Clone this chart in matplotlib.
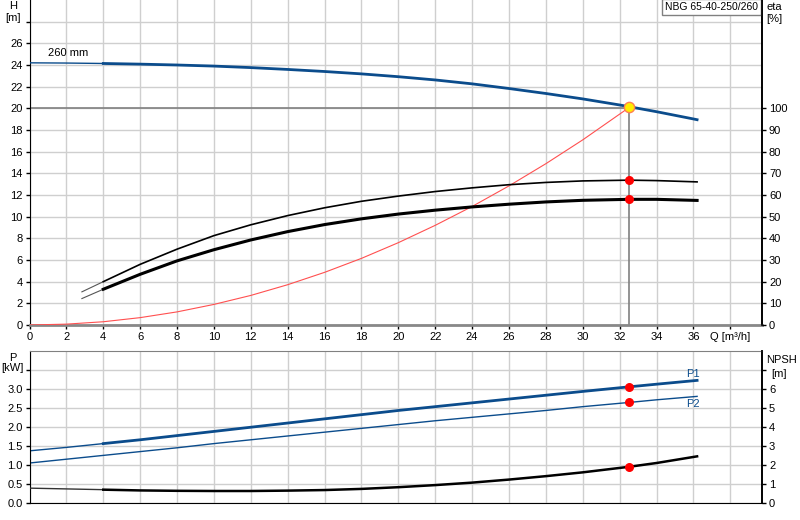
import numpy as np
import matplotlib
matplotlib.use("Agg")
import matplotlib.pyplot as plt

plt.rcParams['font.family'] = ['Liberation Sans', 'DejaVu Sans']

# flow Q [m3/h] and head H [m]
q_h = [0, 2, 4, 6, 8, 10, 12, 14, 16, 18, 20, 22, 24, 26, 28, 30, 32, 34, 36, 36.2]
head = [24.2, 24.18, 24.14, 24.08, 24.0, 23.9, 23.76, 23.59, 23.4, 23.18, 22.92,
        22.62, 22.26, 21.83, 21.37, 20.87, 20.31, 19.69, 19.02, 18.95]

# efficiency [%]
q_eta = [2.84, 4, 6, 8, 10, 12, 14, 16, 18, 20, 22, 24, 26, 28, 30, 32.5, 34, 36.2]
eta_p = [15.3, 20.0, 28.0, 35.0, 41.25, 46.25, 50.5, 54.1, 57.1, 59.5, 61.6, 63.3,
         64.75, 65.8, 66.5, 66.85, 66.65, 66.05]
eta_t = [12.2, 16.5, 23.4, 29.6, 34.75, 39.25, 43.1, 46.35, 49.0, 51.2, 53.0, 54.5,
         55.75, 56.8, 57.55, 58.0, 58.0, 57.5]

# system curve [m]
q_sys = [0, 2, 4, 6, 8, 10, 12, 14, 16, 18, 20, 22, 24, 26, 28, 30, 32.5]
h_sys = [0, 0.08, 0.3, 0.68, 1.21, 1.9, 2.73, 3.72, 4.86, 6.15, 7.6, 9.2, 10.94,
         12.84, 14.89, 17.09, 20.06]

# power [kW] and NPSH [m]
q_p = [0, 2, 4, 6, 8, 10, 12, 14, 16, 18, 20, 22, 24, 26, 28, 30, 32.5, 34, 36.2]
p1 = [1.37, 1.46, 1.56, 1.66, 1.77, 1.88, 1.99, 2.1, 2.21, 2.32, 2.43, 2.53, 2.63,
      2.73, 2.83, 2.93, 3.05, 3.12, 3.22]
p2 = [1.05, 1.15, 1.25, 1.35, 1.45, 1.56, 1.66, 1.76, 1.86, 1.96, 2.06, 2.16, 2.25,
      2.34, 2.43, 2.53, 2.64, 2.71, 2.8]
npsh = [0.78, 0.74, 0.7, 0.66, 0.64, 0.63, 0.63, 0.65, 0.68, 0.74, 0.83, 0.94, 1.07,
        1.23, 1.41, 1.61, 1.9, 2.1, 2.45]

q_op = 32.5
h_op = 20.1
eta_op = [66.85, 58.0]
p_op = [3.05, 2.64]
npsh_op = 1.9

blue = '#0b4c8c'
grid_c = '#cfcfcf'

fig = plt.figure(figsize=(8, 5.2), dpi=100)
ax = fig.add_axes([0.0369, 0.375, 0.9156, 0.625])
axp = fig.add_axes([0.0369, 0.0327, 0.9156, 0.2929])

xmax = 39.72
for a in (ax, axp):
    a.set_xlim(0, xmax)
    a.set_xticks(np.arange(0, 40, 2))
    a.grid(True, color=grid_c, linewidth=1)
    a.set_axisbelow(True)
    a.tick_params(labelsize=8, length=3, width=1, pad=2)

# top chart: head, efficiency
ax.set_ylim(0, 30)
ax.set_yticks(np.arange(0, 30, 2))
ax.set_yticklabels([str(v) for v in range(0, 28, 2)] + [''])
ax.set_xticklabels([str(v) for v in range(0, 38, 2)] + [''])
ax.spines['top'].set_visible(False)
ax.spines['bottom'].set_color('#888888')
ax.spines['bottom'].set_linewidth(2)
ax.spines['right'].set_linewidth(1.2)
ax.text(38.0, -0.6, 'Q [m³/h]', fontsize=8, ha='center', va='top')
ax.text(-0.9, 29.9, 'H', fontsize=8, ha='center', va='top')
ax.text(-0.9, 27.9, '[m]', fontsize=8, ha='center', va='bottom')

axe = ax.twinx()
axe.set_ylim(0, 150)
axe.set_yticks(np.arange(0, 110, 10))
axe.tick_params(labelsize=8, length=3, width=1, pad=2)
for s in ('top', 'left', 'bottom'):
    axe.spines[s].set_visible(False)
axe.spines['right'].set_linewidth(1.2)
axe.text(1.006, 0.995, 'eta', transform=ax.transAxes, fontsize=8, va='top')
axe.text(1.006, 0.958, '[%]', transform=ax.transAxes, fontsize=8, va='top')

ax.plot([0, q_op], [20, 20], color='#808080', lw=1.2, zorder=2)
ax.plot([q_op, q_op], [0, h_op], color='#808080', lw=1.2, zorder=2)

ax.plot(q_h[:3], head[:3], color=blue, lw=1, zorder=3)
ax.plot(q_h[2:], head[2:], color=blue, lw=2, zorder=3)
ax.plot(q_sys, h_sys, color='#ff5050', lw=0.8, zorder=3)

axe.plot(q_eta[:2], eta_p[:2], color='#555555', lw=0.8)
axe.plot(q_eta[1:], eta_p[1:], color='black', lw=1.2)
axe.plot(q_eta[:2], eta_t[:2], color='#555555', lw=0.8)
axe.plot(q_eta[1:], eta_t[1:], color='black', lw=2.2)
axe.scatter([q_op, q_op], eta_op, s=30, color='red', zorder=5)
ax.scatter([q_op], [h_op], s=55, color='#ffee00', edgecolors='#ff7f50', linewidths=1, zorder=6)

ax.text(1.0, 24.6, '260 mm', fontsize=8, va='bottom')
ax.text(0.995, 0.994, 'NBG 65-40-250/260', transform=ax.transAxes, fontsize=7.5,
        ha='right', va='top', zorder=10,
        bbox=dict(boxstyle='square,pad=0.3', fc='white', ec='#808080', lw=1))

# bottom chart: power, NPSH
axp.set_ylim(0, 4)
axp.set_yticks(np.arange(0, 4.0, 0.5))
axp.set_yticklabels(['0.0', '0.5', '1.0', '1.5', '2.0', '2.5', '3.0', ''])
axp.set_xticklabels([])
axp.tick_params(axis='x', length=0)
axp.spines['top'].set_color('#808080')
axp.spines['right'].set_linewidth(1.2)
axp.text(-0.9, 3.93, 'P', fontsize=8, ha='center', va='top')
axp.text(-0.9, 3.42, '[kW]', fontsize=8, ha='center', va='bottom')

axn = axp.twinx()
axn.set_ylim(0, 8)
axn.set_yticks(np.arange(0, 8, 1))
axn.set_yticklabels([str(v) for v in range(7)] + [''])
axn.tick_params(labelsize=8, length=3, width=1, pad=2)
for s in ('top', 'left', 'bottom'):
    axn.spines[s].set_visible(False)
axn.spines['right'].set_linewidth(1.2)
axn.text(1.005, 0.97, 'NPSH', transform=axp.transAxes, fontsize=8, va='top')
axn.text(1.012, 0.88, '[m]', transform=axp.transAxes, fontsize=8, va='top')

axp.plot(q_p[:3], p1[:3], color=blue, lw=1)
axp.plot(q_p[2:], p1[2:], color=blue, lw=2)
axp.plot(q_p, p2, color=blue, lw=1)
axn.plot(q_p[:3], npsh[:3], color='#333333', lw=1)
axn.plot(q_p[2:], npsh[2:], color='black', lw=1.8)
axp.scatter([q_op, q_op], p_op, s=30, color='red', zorder=5)
axn.scatter([q_op], [npsh_op], s=30, color='red', zorder=5)
axp.text(35.6, 3.38, 'P1', fontsize=8, color=blue, va='center')
axp.text(35.6, 2.6, 'P2', fontsize=8, color=blue, va='center')

fig.savefig('out.png', dpi=100)
